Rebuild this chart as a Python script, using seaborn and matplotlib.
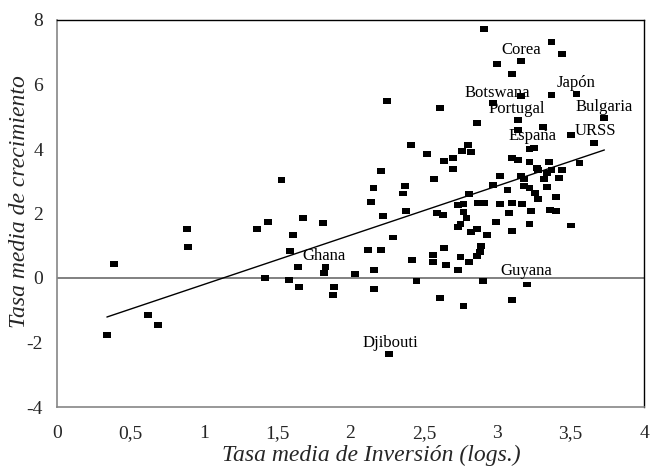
import matplotlib
matplotlib.use("Agg")
import matplotlib.pyplot as plt
import seaborn as sns
import pandas as pd

# Average investment rate (logs) and average growth rate per country
inversion = [
    0.34, 0.39, 0.62, 0.69, 0.89, 0.885, 1.36, 1.44, 1.53, 1.675,
    1.81, 1.61, 1.59, 1.64, 1.83, 1.82, 2.03, 2.12, 2.21, 2.16,
    1.415, 1.58, 1.65, 1.89, 1.88, 2.16, 2.26, 2.29, 2.42, 2.45,
    2.25, 2.415, 2.21, 2.157, 2.37, 2.36, 2.14, 2.38, 2.22, 2.61,
    2.97, 2.86, 2.52, 2.80, 2.76, 2.82, 2.64, 2.70, 2.70, 2.57,
    3.02, 2.97, 2.81, 3.07, 2.59, 2.63, 2.73, 2.77, 2.87, 2.91,
    3.02, 2.77, 2.79, 2.75, 2.73, 2.82, 2.86, 2.93, 2.99, 2.56,
    2.56, 2.64, 2.65, 2.73, 2.75, 2.81, 2.86, 2.88, 2.89, 2.90,
    2.61, 2.77, 3.10, 3.17, 3.28, 3.08, 3.23, 3.36, 3.40, 3.22,
    3.50, 3.10, 3.20, 3.10, 3.16, 3.37, 3.54, 3.73, 3.14, 3.14,
    3.31, 3.50, 3.66, 3.22, 3.25, 3.10, 3.14, 3.22, 3.35, 3.56,
    3.27, 3.28, 3.37, 3.34, 3.44, 3.16, 3.18, 3.32, 3.42, 3.18,
    3.22, 3.34, 3.26, 3.40, 2.91, 3.37, 3.44, 3.00, 3.16, 3.10,
]
crecimiento = [
    -1.77, 0.43, -1.15, -1.46, 0.96, 1.52, 1.52, 1.74, 3.04, 1.86,
    1.70, 1.34, 0.84, 0.34, 0.34, 0.155, 0.12, 0.87, 0.87, 0.25,
    0.00, -0.06, -0.28, -0.28, -0.53, -0.34, -2.36, 1.26, 0.56, -0.09,
    5.49, 4.12, 3.32, 2.80, 2.86, 2.62, 2.36, 2.08, 1.93, 5.27,
    5.42, 4.81, 3.84, 4.12, 3.94, 3.91, 3.63, 3.72, 3.38, 3.07,
    3.16, 2.88, 2.60, 2.73, 2.02, 1.95, 2.26, 2.29, 2.33, 2.33,
    2.29, 2.05, 1.86, 1.67, 1.58, 1.43, 1.52, 1.33, 1.74, 0.71,
    0.50, 0.93, 0.40, 0.25, 0.65, 0.50, 0.68, 0.81, 0.99, -0.09,
    -0.62, -0.87, 2.33, 2.29, 2.45, 2.02, 2.08, 2.10, 2.08, 1.67,
    1.63, 1.46, -0.20, -0.68, 5.64, 5.67, 5.71, 4.96, 4.90, 4.59,
    4.68, 4.43, 4.19, 4.00, 4.03, 3.72, 3.66, 3.60, 3.60, 3.56,
    3.41, 3.35, 3.35, 3.26, 3.35, 3.16, 3.07, 3.07, 3.10, 2.85,
    2.79, 2.82, 2.64, 2.51, 7.72, 7.32, 6.95, 6.64, 6.73, 6.33,
]

# Fitted trend line (end points)
ajuste_x = [0.34, 3.73]
ajuste_y = [-1.21, 3.97]

# Country annotations: name, x, y (label centre)
paises = ["Corea", "Japón", "Botswana", "Portugal", "Bulgaria",
          "URSS", "España", "Ghana", "Guyana", "Djibouti"]
paises_x = [3.16, 3.54, 3.00, 3.13, 3.73, 3.67, 3.24, 1.82, 3.20, 2.27]
paises_y = [7.07, 6.05, 5.74, 5.24, 5.30, 4.56, 4.40, 0.68, 0.21, -2.0]

x_ticks = [0, 0.5, 1, 1.5, 2, 2.5, 3, 3.5, 4]
x_tick_labels = ["0", "0,5", "1", "1,5", "2", "2,5", "3", "3,5", "4"]
y_ticks = [-4, -2, 0, 2, 4, 6, 8]
y_tick_labels = ["-4", "-2", "0", "2", "4", "6", "8"]

sns.set_style("white")
plt.rcParams["font.family"] = ["Liberation Serif", "DejaVu Serif"]

df = pd.DataFrame({"inv": inversion, "crec": crecimiento})
df_fit = pd.DataFrame({"x": ajuste_x, "y": ajuste_y})

fig = plt.figure(figsize=(6.5, 4.73), dpi=100)
ax = fig.add_axes([57 / 650, 66 / 473, 587 / 650, 387 / 473])

ax.axhline(0, color="#808080", lw=1.4, zorder=1)

sns.lineplot(data=df_fit, x="x", y="y", ax=ax, color="black", lw=1.0,
             zorder=2, legend=False)

marca = [(-1, -0.72), (1, -0.72), (1, 0.72), (-1, 0.72), (-1, -0.72)]
sns.scatterplot(data=df, x="inv", y="crec", ax=ax, marker=marca, s=32,
                color="black", edgecolor="none", linewidth=0, zorder=3)

for nombre, px, py in zip(paises, paises_x, paises_y):
    ax.text(px, py, nombre, ha="center", va="center", fontsize=12,
            color="black", zorder=4)

ax.set_xlim(0, 4)
ax.set_ylim(-4, 8)
ax.set_xticks(x_ticks)
ax.set_xticklabels(x_tick_labels)
ax.set_yticks(y_ticks)
ax.set_yticklabels(y_tick_labels)
ax.tick_params(axis="both", length=0, labelsize=14)
ax.tick_params(axis="x", pad=13)
ax.tick_params(axis="y", pad=10)

ax.set_xlabel("Tasa media de Inversión (logs.)", fontsize=17,
              fontstyle="italic")
ax.set_ylabel("Tasa media de crecimiento", fontsize=17,
              fontstyle="italic")
ax.xaxis.set_label_coords(0.535, -0.098)
ax.yaxis.set_label_coords(-0.046, 0.53)

for lado in ["left", "bottom"]:
    ax.spines[lado].set_color("#868686")
    ax.spines[lado].set_linewidth(1.2)
for lado in ["top", "right"]:
    ax.spines[lado].set_color("black")
    ax.spines[lado].set_linewidth(1.0)

fig.savefig("out.png", dpi=100)
